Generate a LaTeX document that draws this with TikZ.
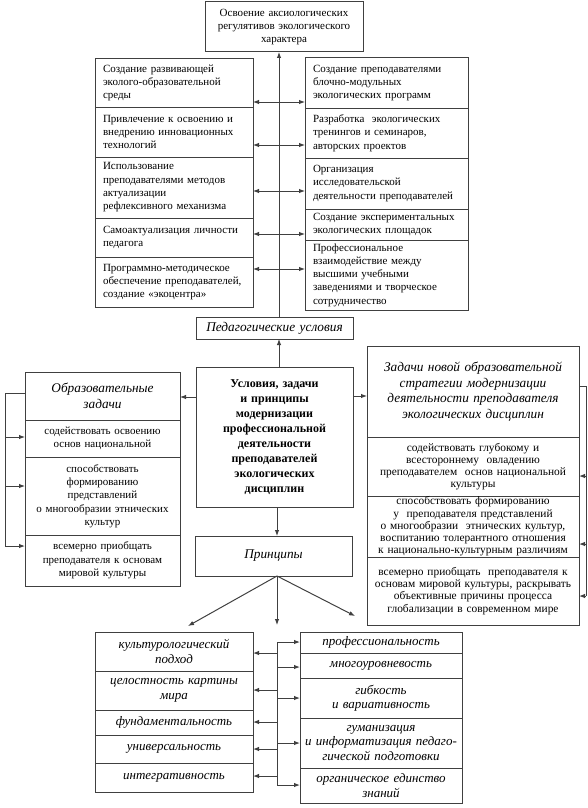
\documentclass[tikz,border=0pt]{standalone}
\usepackage{fontspec}
\setmainfont{Liberation Serif}
\usepackage{xcolor}
\usetikzlibrary{arrows.meta,positioning,calc}
\definecolor{LineGray}{HTML}{404040}
\newcommand{\bodyfont}{\fontsize{11}{13.3}\selectfont}
\newcommand{\smallbody}{\fontsize{11.4}{12.2}\selectfont}
\newcommand{\headfont}{\fontsize{13.3}{15.5}\selectfont\itshape}
\newcommand{\corefont}{\fontsize{12}{15}\selectfont\bfseries}
\newcommand{\princfont}{\fontsize{13}{14.5}\selectfont\itshape}

\begin{document}
\begin{tikzpicture}[
  x=1pt,y=-1pt,
  cell/.style={draw=LineGray,line width=1pt,outer sep=0pt,inner ysep=0pt,font=\bodyfont},
  lcol/.style={cell,inner xsep=8pt,text width=142pt,align=left},
  rcol/.style={cell,inner xsep=8pt,text width=147pt,align=left},
  mid/.style={cell,inner xsep=4pt,text width=149pt,align=center},
  ltask/.style={cell,inner xsep=4pt,text width=147pt,align=center},
  rtask/.style={cell,inner xsep=3pt,text width=206pt,align=center,font=\smallbody},
  lprin/.style={cell,inner xsep=4pt,text width=150pt,align=center,font=\princfont},
  rprin/.style={cell,inner xsep=4pt,text width=154pt,align=center,font=\princfont},
  line/.style={LineGray,line width=1pt},
  arrow/.style={line,-{Latex[length=6pt,width=4.5pt]}},
  dblarrow/.style={line,{Latex[length=6pt,width=4.5pt]}-{Latex[length=6pt,width=4.5pt]}}
]
\useasboundingbox (0,0) rectangle (588,808);

% top goal
\node[mid,text width=150pt,minimum height=50pt,anchor=north west] (aim) at (205,2)
  {Освоение аксиологических\\регулятивов экологического\\характера};

% pedagogical conditions, left column
\node[lcol,minimum height=48pt,anchor=north west] (lc1) at (95,59)
  {Создание развивающей\\эколого-образовательной\\среды};
\node[lcol,minimum height=50pt,below=0pt of lc1] (lc2)
  {Привлечение к освоению и\\внедрению инновационных\\технологий};
\node[lcol,minimum height=61pt,below=0pt of lc2] (lc3)
  {Использование\\преподавателями методов\\актуализации\\рефлексивного механизма};
\node[lcol,minimum height=39pt,below=0pt of lc3] (lc4)
  {Самоактуализация личности\\педагога};
\node[lcol,minimum height=50pt,below=0pt of lc4] (lc5)
  {Программно-методическое\\обеспечение преподавателей,\\создание «экоцентра»};

% pedagogical conditions, right column
\node[rcol,minimum height=50pt,anchor=north west] (rc1) at (305,58)
  {Создание преподавателями\\блочно-модульных\\экологических программ};
\node[rcol,minimum height=50pt,below=0pt of rc1] (rc2)
  {Разработка\ \ экологических\\тренингов и семинаров,\\авторских проектов};
\node[rcol,minimum height=51pt,below=0pt of rc2] (rc3)
  {Организация\\исследовательской\\деятельности преподавателей};
\node[rcol,minimum height=31pt,below=0pt of rc3] (rc4)
  {Создание экспериментальных\\экологических площадок};
\node[rcol,minimum height=70pt,below=0pt of rc4] (rc5)
  {Профессиональное\\взаимодействие между\\высшими учебными\\заведениями и творческое\\сотрудничество};

\node[mid,font=\headfont,minimum height=22pt,anchor=north west] (cond) at (196,317)
  {Педагогические условия};
\node[mid,font=\corefont,minimum height=140pt,anchor=north west] (core) at (196,367)
  {Условия, задачи\\и принципы\\модернизации\\профессиональной\\деятельности\\преподавателей\\экологических\\дисциплин};

% educational tasks
\node[ltask,font=\headfont,minimum height=48pt,anchor=north west] (lhead) at (25,372)
  {Образовательные\\задачи};
\node[ltask,minimum height=37pt,below=0pt of lhead] (lt1)
  {содействовать освоению\\основ национальной};
\node[ltask,minimum height=78pt,below=0pt of lt1] (lt2)
  {способствовать\\формированию\\представлений\\о многообразии этнических\\культур};
\node[ltask,minimum height=51pt,below=0pt of lt2] (lt3)
  {всемерно приобщать\\преподавателя к основам\\мировой культуры};

% tasks of the new strategy
\node[rtask,font=\headfont,minimum height=91pt,anchor=north west] (rhead) at (367,346)
  {Задачи новой образовательной\\стратегии модернизации\\деятельности преподавателя\\экологических дисциплин};
\node[rtask,minimum height=59pt,below=0pt of rhead] (rt1)
  {содействовать глубокому и\\всестороннему\ \ овладению\\преподавателем\ \ основ национальной\\культуры};
\node[rtask,minimum height=61pt,below=0pt of rt1] (rt2)
  {способствовать формированию\\у\ \ преподавателя представлений\\о многообразии\ \ этнических культур,\\воспитанию толерантного отношения\\к национально-культурным различиям};
\node[rtask,minimum height=68pt,below=0pt of rt2] (rt3)
  {всемерно приобщать\ \ преподавателя к\\основам мировой культуры, раскрывать\\объективные причины процесса\\глобализации в современном мире};

% principles
\node[mid,font=\headfont,text width=149pt,minimum height=40pt,anchor=north west] (princ) at (195,536)
  {Принципы};
\node[lprin,minimum height=39pt,anchor=north west] (lp1) at (95,632)
  {культурологический\\подход};
\node[lprin,minimum height=39pt,below=0pt of lp1] (lp2) {целостность картины\\мира};
\node[lprin,minimum height=25pt,below=0pt of lp2] (lp3) {фундаментальность};
\node[lprin,minimum height=28pt,below=0pt of lp3] (lp4) {универсальность};
\node[lprin,minimum height=29pt,below=0pt of lp4] (lp5) {интегративность};
\node[rprin,minimum height=21pt,anchor=north west] (rp1) at (300,632) {профессиональность};
\node[rprin,minimum height=25pt,below=0pt of rp1] (rp2) {многоуровневость};
\node[rprin,minimum height=40pt,below=0pt of rp2] (rp3) {гибкость\\и вариативность};
\node[rprin,minimum height=50pt,below=0pt of rp3] (rp4)
  {гуманизация\\и информатизация педаго-\\гической подготовки};
\node[rprin,minimum height=35pt,below=0pt of rp4] (rp5) {органическое единство\\знаний};

% spine and links between the columns
\coordinate (spine) at (279,0);
\draw[arrow] (spine |- cond.north) -- (spine |- aim.south);
\draw[arrow] (spine |- core.north) -- (spine |- cond.south);
\foreach \a/\b/\y in {lc1/rc1/102,lc2/rc2/145,lc3/rc3/191,lc4/rc4/234,lc5/rc5/269}
  \draw[dblarrow] (\a.east |- 0,\y) -- (\b.west |- 0,\y);

% tasks
\draw[arrow] (core.west |- 0,397) -- (lhead.east |- 0,397);
\draw[arrow] (core.east |- 0,396) -- (rhead.west |- 0,396);
\coordinate (lbus) at (5,393);
\draw[line] (lhead.west |- lbus) -- (lbus) -- (lbus |- 0,546);
\foreach \n/\y in {lt1/437,lt2/486,lt3/546}
  \draw[arrow] (lbus |- 0,\y) -- (\n.west |- 0,\y);
\coordinate (rbus) at (586,386);
\draw[line] (rhead.east |- rbus) -- (rbus) -- (rbus |- 0,596);
\foreach \n/\y in {rt1/476,rt2/544,rt3/596}
  \draw[arrow] (rbus |- 0,\y) -- (\n.east |- 0,\y);

% principles
\coordinate (pbus) at (277,0);
\draw[arrow] (pbus |- core.south) -- (pbus |- princ.north);
\coordinate (fan) at (pbus |- princ.south);
\draw[arrow] (fan) -- (188,626);
\draw[arrow] (fan) -- (pbus |- 0,625);
\draw[arrow] (fan) -- (355,616);
\draw[line] (pbus |- 0,642) -- (pbus |- 0,785);
\foreach \n/\y in {rp1/642,rp2/667,rp3/698,rp4/743,rp5/785}
  \draw[arrow] (pbus |- 0,\y) -- (\n.west |- 0,\y);
\foreach \n/\y in {lp1/653,lp2/690,lp3/722,lp4/749,lp5/776}
  \draw[arrow] (pbus |- 0,\y) -- (\n.east |- 0,\y);
\end{tikzpicture}
\end{document}
